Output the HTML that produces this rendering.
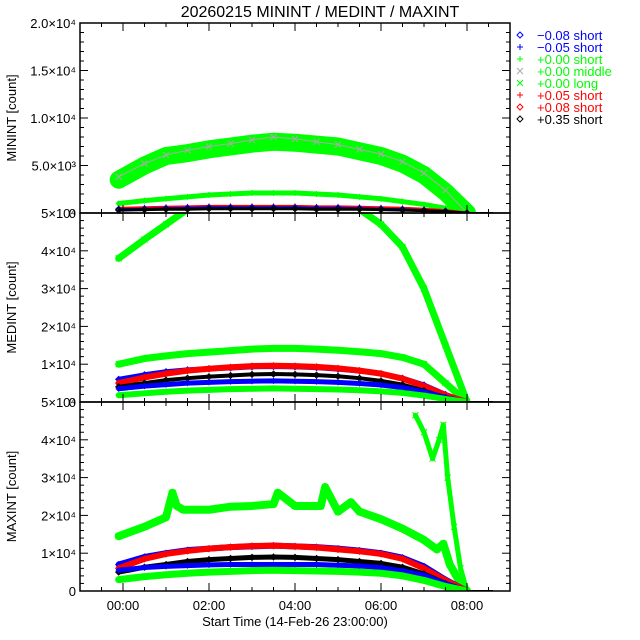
<!DOCTYPE html>
<html><head><meta charset="utf-8"><style>
html,body{margin:0;padding:0;background:#fff}
svg{display:block;font-family:"Liberation Sans",sans-serif}
</style></head><body>
<svg id="chart" width="640" height="640" viewBox="0 0 640 640">
<rect width="640" height="640" fill="#fff"/>
<text x="320" y="17" font-size="16" text-anchor="middle">20260215 MININT / MEDINT / MAXINT</text>
<g id="plots"></g>
<g id="legend"></g>
</svg>
<script>
// ---- data ----
const times = [-0.1,0.5,1,1.5,2,2.5,3,3.5,4,4.5,5,5.5,6,6.5,7,7.5,8];
const tailTimes = [8,8.2,8.4,8.6];
const tailValues = [0,0,0,0];
// MININT
const minGreenMiddle = [3500,5000,6000,6300,6700,7000,7300,7500,7400,7200,7000,6500,6000,5200,4000,2200,0];
const minGreyMiddle  = [3800,5200,6100,6600,7000,7300,7700,8000,7800,7500,7200,6700,6200,5400,4200,2400,0];
const minGreenShort  = [1000,1300,1500,1700,1900,2000,2100,2100,2100,2000,1900,1700,1500,1200,900,500,0];
const minRed         = [500,550,600,650,700,700,700,700,700,650,650,600,550,500,400,250,0];
const minBlue        = [400,450,500,550,600,600,600,600,600,550,550,500,450,400,300,200,0];
const minBlack       = [300,350,400,400,450,450,450,450,450,400,400,400,350,300,250,150,0];
// MEDINT
const medGreenLong   = [38000,43000,47000,51000,55000,58000,59000,59000,58000,56000,53000,51000,47000,41000,30000,15000,0];
const medGreenMiddle = [10000,11500,12200,12800,13200,13600,14000,14200,14200,14000,13700,13300,12800,11800,10000,5000,0];
const medBlueDia     = [6000,7200,8000,8500,8800,9000,9300,9400,9300,9100,8700,8200,7500,6300,4500,2000,0];
const medRed         = [5000,6500,7500,8300,8800,9200,9500,9600,9500,9300,8900,8300,7500,6200,4200,1800,0];
const medBlack       = [4000,5000,5800,6300,6700,7000,7300,7400,7300,7100,6800,6300,5600,4600,3000,1200,0];
const medBluePlus    = [3500,4200,4600,5000,5200,5400,5500,5600,5500,5400,5200,4900,4500,3800,2700,1200,0];
const medGreenPlus   = [1800,2300,2700,3000,3200,3400,3500,3600,3500,3400,3300,3100,2800,2400,1700,800,0];
// MAXINT
const maxLongTimes   = [-0.1,0.5,1,1.15,1.25,1.4,2,2.5,3,3.5,3.6,4,4.6,4.7,5,5.3,5.5,6,6.5,7,7.3,7.45,7.6,7.8,8];
const maxLongValues  = [14500,17000,19500,26000,22500,21500,21500,22300,22500,23000,26000,22500,22500,27500,21000,23500,21000,19000,16500,13500,11000,12500,7000,3000,0];
const maxSpikeTimes  = [6.8,7.0,7.2,7.35,7.45,7.55,7.7,7.85,8.0];
const maxSpikeValues = [46500,42000,35000,40000,44000,30000,17000,6000,0];
const maxBlueDia     = [7000,9000,10000,10800,11200,11600,11800,12000,11800,11600,11200,10700,10000,8800,6500,3000,0];
const maxRed         = [6000,8500,9800,10600,11200,11600,11900,12000,11800,11500,11000,10500,9800,8500,6000,2800,0];
const maxBlack       = [5000,6300,7000,7800,8300,8600,8900,9000,8900,8600,8300,7800,7300,6300,4500,2000,0];
const maxBluePlus    = [5500,6200,6500,6700,6900,7000,7000,7000,7000,7000,6800,6600,6200,5300,4200,2000,0];
const maxGreenPlus   = [3000,3800,4300,4700,5000,5200,5400,5500,5400,5300,5200,5000,4700,4000,2800,1200,0];
// axes
const xTickLabels = ["00:00","02:00","04:00","06:00","08:00"];
const xTickHours  = [0,2,4,6,8];
const panel1Ticks = [0,5000,10000,15000,20000];
const panel1Labels = ["0","5.0×10³","1.0×10⁴","1.5×10⁴","2.0×10⁴"];
const panel23Ticks = [0,10000,20000,30000,40000,50000];
const panel23Labels = ["0","1×10⁴","2×10⁴","3×10⁴","4×10⁴","5×10⁴"];

const NS="http://www.w3.org/2000/svg";
const L=80,R=510;
function xs(t){return L+(t+1)*(R-L)/10;}
function mk(tag,attrs,parent){const e=document.createElementNS(NS,tag);for(const k in attrs)e.setAttribute(k,attrs[k]);parent.appendChild(e);return e;}
const plots=document.getElementById('plots');
const panels=[
 {name:'minint',top:23,bottom:213,max:20000,label:'MININT [count]',ticks:panel1Ticks,labels:panel1Labels,minor:1000},
 {name:'medint',top:213,bottom:402,max:50000,label:'MEDINT [count]',ticks:panel23Ticks,labels:panel23Labels,minor:2000},
 {name:'maxint',top:402,bottom:591,max:50000,label:'MAXINT [count]',ticks:panel23Ticks,labels:panel23Labels,minor:2000}
];
function ysFor(p){return v=>p.bottom-v/p.max*(p.bottom-p.top);}
function marker(g,sym,x,y,color){
  const s=3;
  if(sym==='x'){mk('path',{d:`M${x-s} ${y-s}L${x+s} ${y+s}M${x-s} ${y+s}L${x+s} ${y-s}`,stroke:color,'stroke-width':1,fill:'none'},g);}
  else if(sym==='+'){mk('path',{d:`M${x-s} ${y}L${x+s} ${y}M${x} ${y-s}L${x} ${y+s}`,stroke:color,'stroke-width':1,fill:'none'},g);}
  else {mk('path',{d:`M${x} ${y-s}L${x+s} ${y}L${x} ${y+s}L${x-s} ${y}Z`,stroke:color,'stroke-width':1,fill:'none'},g);}
}
function series(p,idx,name,tt,vals,sym,color,width){
  const ys=ysFor(p);
  const g=mk('g',{'clip-path':`url(#clip${idx})`},plots);
  
  
  const pts=tt.map((t,i)=>xs(t)+','+ys(vals[i])).join(' ');
  mk('polyline',{points:pts,fill:'none',stroke:color,'stroke-width':width,'stroke-linejoin':'round','stroke-linecap':'round'},g);
  tt.forEach((t,i)=>marker(g,sym,xs(t),ys(vals[i]),color));
  const tg=tailTimes.map((t,i)=>xs(t)+','+ys(tailValues[i])).join(' ');
  mk('polyline',{points:tg,fill:'none',stroke:'#000','stroke-width':2},g);
}
const defs=mk('defs',{},plots);
panels.forEach((p,i)=>{const c=mk('clipPath',{id:'clip'+i},defs);mk('rect',{x:L,y:p.top,width:R-L,height:p.bottom-p.top},c);});

// panel 1
const p1=panels[0];
series(p1,0,'minint-green-middle',times,minGreenMiddle,'x','#00ff00',18);
series(p1,0,'minint-grey-middle',times,minGreyMiddle,'x','#aaaaaa',1);
series(p1,0,'minint-green-short',times,minGreenShort,'+','#00ff00',5);
series(p1,0,'minint-red',times,minRed,'+','#ff0000',3);
series(p1,0,'minint-blue',times,minBlue,'d','#0000ff',2);
series(p1,0,'minint-black',times,minBlack,'d','#000000',3);
// panel 2
const p2=panels[1];
series(p2,1,'medint-green-long',times,medGreenLong,'x','#00ff00',7);
series(p2,1,'medint-green-middle',times,medGreenMiddle,'x','#00ff00',7);
series(p2,1,'medint-blue-diamond',times,medBlueDia,'d','#0000ff',5);
series(p2,1,'medint-red',times,medRed,'d','#ff0000',6);
series(p2,1,'medint-black',times,medBlack,'d','#000000',4);
series(p2,1,'medint-blue-plus',times,medBluePlus,'+','#0000ff',5);
series(p2,1,'medint-green-plus',times,medGreenPlus,'+','#00ff00',6);
// panel 3
const p3=panels[2];
series(p3,2,'maxint-green-long',maxLongTimes,maxLongValues,'x','#00ff00',8);
series(p3,2,'maxint-green-spike',maxSpikeTimes,maxSpikeValues,'x','#00ff00',5);
series(p3,2,'maxint-blue-diamond',times,maxBlueDia,'d','#0000ff',6);
series(p3,2,'maxint-red',times,maxRed,'d','#ff0000',6);
series(p3,2,'maxint-black',times,maxBlack,'d','#000000',5);
series(p3,2,'maxint-blue-plus',times,maxBluePlus,'+','#0000ff',5);
series(p3,2,'maxint-green-plus',times,maxGreenPlus,'+','#00ff00',7);

// axes
panels.forEach((p,i)=>{
  const ys=ysFor(p);
  const ax=mk('g',{},plots);
  
  
  mk('rect',{x:L,y:p.top,width:R-L,height:p.bottom-p.top,fill:'none',stroke:'#000','stroke-width':1.5},ax);
  for(let v=0;v<=p.max;v+=p.minor){
    const major=p.ticks.includes(v);const len=major?8:4;
    mk('line',{x1:L,x2:L+len,y1:ys(v),y2:ys(v),stroke:'#000'},ax);
    mk('line',{x1:R,x2:R-len,y1:ys(v),y2:ys(v),stroke:'#000'},ax);
  }
  p.ticks.forEach((v,k)=>{
    const t=mk('text',{x:76,y:ys(v)+5,'font-size':13,'text-anchor':'end'},ax);
    t.textContent=p.labels[k];
    
    
  });
  for(let h=-0.5;h<=9;h+=0.5){
    const major=xTickHours.includes(h);const len=major?8:4;
    mk('line',{x1:xs(h),x2:xs(h),y1:p.bottom,y2:p.bottom-len,stroke:'#000'},ax);
    mk('line',{x1:xs(h),x2:xs(h),y1:p.top,y2:p.top+len,stroke:'#000'},ax);
  }
  const yl=mk('text',{x:0,y:0,'font-size':13,'text-anchor':'middle',transform:`translate(16,${(p.top+p.bottom)/2}) rotate(-90)`},ax);
  yl.textContent=p.label;
  
  
});
xTickHours.forEach((h,k)=>{
  const t=mk('text',{x:xs(h),y:610,'font-size':13,'text-anchor':'middle'},plots);
  t.textContent=xTickLabels[k];
  
  
});
const xt=mk('text',{x:295,y:626,'font-size':13,'text-anchor':'middle'},plots);
xt.textContent='Start Time (14-Feb-26 23:00:00)';



// legend
const legSyms=['d','+','+','x','x','+','d','d'];
const legColors=['#0000ff','#0000ff','#00ff00','#aaaaaa','#00ff00','#ff0000','#ff0000','#000000'];
const legText=['−0.08 short','−0.05 short','+0.00 short','+0.00 middle','+0.00 long','+0.05 short','+0.08 short','+0.35 short'];
const lg=document.getElementById('legend');
legText.forEach((s,i)=>{
  const y=35+i*12;
  const g=mk('g',{},lg);
  
  
  marker(g,legSyms[i],520,y,i===3?'#aaaaaa':legColors[i]);
  const t=mk('text',{x:537,y:y+5,'font-size':13,fill:i===3?'#00ff00':legColors[i]},g);
  t.textContent=s;
});
</script>
</body></html>
